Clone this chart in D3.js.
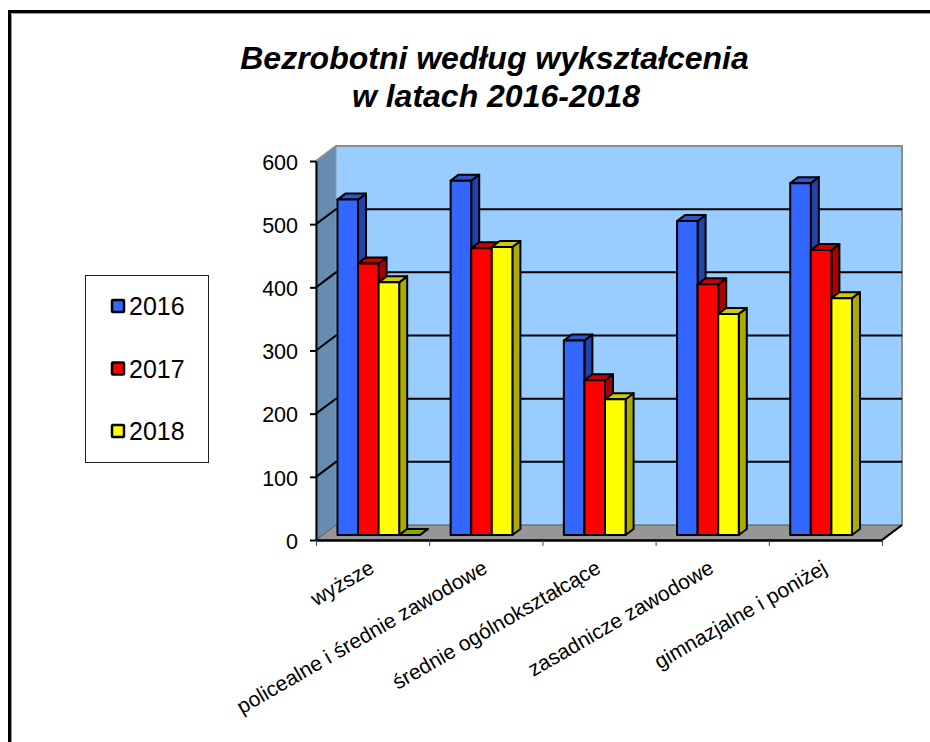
<!DOCTYPE html>
<html lang="pl">
<head>
<meta charset="UTF-8">
<title>Bezrobotni według wykształcenia</title>
<script src="https://d3js.org/d3.v7.min.js"></script>
<style>
    body { margin: 0; background: #fff; }
    text { font-family: "Liberation Sans", Arial, sans-serif; fill: #000; }
</style>
</head>
<body>
<div id="chart"></div>
<script>
    // Data
    const categories = ["wyższe", "policealne i średnie zawodowe", "średnie ogólnokształcące", "zasadnicze zawodowe", "gimnazjalne i poniżej"];
    const years = ["2016", "2017", "2018"];
    const values2016 = [531, 561, 308, 497, 557];
    const values2017 = [430, 454, 245, 397, 451];
    const values2018 = [400, 456, 215, 350, 375];
    // the stray flat bar next to "wyższe": a fourth, empty series
    const valuesExtra = [0, null, null, null, null];
    const yTicks = [0, 100, 200, 300, 400, 500, 600];

    const seriesList = [
        { name: "2016", values: values2016, front: "#3366ff", side: "#2244aa", top: "#2f55cc" },
        { name: "2017", values: values2017, front: "#ff0000", side: "#aa0000", top: "#cc0000" },
        { name: "2018", values: values2018, front: "#ffff00", side: "#aaaa00", top: "#cccc00" },
        { name: "extra", values: valuesExtra, front: "#99cc00", side: "#668800", top: "#88aa00" }
    ];

    const width = 930, height = 742;
    const plot = { left: 316, right: 882, top: 161, bottom: 540 };
    const wall = { dx: 20, dy: -15 };   // depth of the whole 3d box
    const barOff = { dx: 6, dy: -5 };   // where the bar front sits inside the box
    const barDepth = { dx: 8, dy: -6 }; // depth of a bar

    const svg = d3.select("#chart").append("svg")
        .attr("width", width)
        .attr("height", height)
        .style("display", "block");

    // Outer frame of the slide
    svg.append("path").attr("d", "M9.5,742V11.5H930").attr("fill", "none").attr("stroke", "#000").attr("stroke-width", 3);
    svg.append("path").attr("d", "M11.5,742V13.5H930").attr("fill", "none").attr("stroke", "#999").attr("stroke-width", 1);

    // Title
    const title = svg.append("text")
        .attr("text-anchor", "middle")
        .attr("font-size", 32)
        .attr("font-weight", "bold")
        .attr("font-style", "italic");
    title.append("tspan").attr("x", 494.5).attr("y", 69).text("Bezrobotni według wykształcenia");
    title.append("tspan").attr("x", 496).attr("y", 107).text("w latach 2016-2018");

    // Scales
    const y = d3.scaleLinear().domain([0, 600]).range([plot.bottom, plot.top]);
    const x0 = d3.scaleBand().domain(categories).range([plot.left, plot.right]);
    const x1 = d3.scaleBand()
        .domain(seriesList.map(d => d.name))
        .range([0, x0.bandwidth()])
        .paddingInner(0)
        .paddingOuter(0.75);

    const poly = pts => pts.map(p => p.join(",")).join(" ");

    // Walls and floor
    const xL = plot.left, xR = plot.right, yT = plot.top, yB = plot.bottom;
    svg.append("polygon")
        .attr("points", poly([[xL + wall.dx, yT + wall.dy], [xR + wall.dx, yT + wall.dy], [xR + wall.dx, yB + wall.dy], [xL + wall.dx, yB + wall.dy]]))
        .attr("fill", "#99ccff");
    svg.append("polygon")
        .attr("points", poly([[xL, yT], [xL + wall.dx, yT + wall.dy], [xL + wall.dx, yB + wall.dy], [xL, yB]]))
        .attr("fill", "#668cb0")
        .attr("stroke", "#8a9aa8").attr("stroke-width", 1);
    svg.append("polygon")
        .attr("points", poly([[xL, yB], [xL + wall.dx, yB + wall.dy], [xR + wall.dx, yB + wall.dy], [xR, yB]]))
        .attr("fill", "#969696")
        .attr("stroke", "#555").attr("stroke-width", 1);
    // grey wall edge on top and right
    svg.append("path")
        .attr("d", `M${xL},${yT}L${xL + wall.dx},${yT + wall.dy}H${xR + wall.dx}V${yB + wall.dy}L${xR},${yB}`)
        .attr("fill", "none").attr("stroke", "#8c8c8c").attr("stroke-width", 2);
    // the floor's front right corner has a dark edge
    svg.append("path")
        .attr("d", `M${xR},${yB}L${xR + wall.dx},${yB + wall.dy}`)
        .attr("fill", "none").attr("stroke", "#000").attr("stroke-width", 2);

    // Gridlines on the side wall and back wall
    const gridTicks = yTicks.filter(d => d > 0 && d < 600);
    svg.append("g").selectAll("path").data(gridTicks).enter().append("path")
        .attr("d", d => `M${xL},${y(d)}L${xL + wall.dx},${y(d) + wall.dy}H${xR + wall.dx}`)
        .attr("fill", "none").attr("stroke", "#000").attr("stroke-width", 2);

    // Bars
    const groups = svg.append("g").selectAll("g").data(categories).enter().append("g");
    groups.each(function(cat, i) {
        const g = d3.select(this);
        seriesList.forEach(s => {
            const v = s.values[i];
            if (v === null) return;
            const xa = x0(cat) + x1(s.name) + barOff.dx;
            const xb = xa + x1.bandwidth();
            const yb = y(0) + barOff.dy;
            const yt = y(v) + barOff.dy;
            const dx = barDepth.dx, dy = barDepth.dy;
            const bar = g.append("g").attr("stroke", "#000").attr("stroke-width", 2).attr("stroke-linejoin", "round");
            bar.append("polygon").attr("fill", s.side)
                .attr("points", poly([[xb, yt], [xb + dx, yt + dy], [xb + dx, yb + dy], [xb, yb]]));
            bar.append("polygon").attr("fill", s.top)
                .attr("points", poly([[xa, yt], [xa + dx, yt + dy], [xb + dx, yt + dy], [xb, yt]]));
            bar.append("rect").attr("fill", s.front)
                .attr("x", xa).attr("y", yt).attr("width", xb - xa).attr("height", yb - yt);
        });
    });

    // Axes
    const yAxis = svg.append("g")
        .attr("transform", `translate(${plot.left},0)`)
        .call(d3.axisLeft(y).tickValues(yTicks).tickSize(6).tickPadding(12).tickSizeOuter(0));
    yAxis.selectAll("text").attr("font-size", 21.5).attr("font-family", null).attr("dy", "0.38em");
    yAxis.selectAll("path,line").attr("stroke", "#000").attr("stroke-width", 2);

    const xAxisScale = d3.scaleLinear().domain([0, categories.length]).range([plot.left, plot.right]);
    const xAxis = svg.append("g")
        .attr("transform", `translate(0,${plot.bottom})`)
        .call(d3.axisBottom(xAxisScale).tickValues(d3.range(categories.length + 1)).tickFormat("").tickSize(6).tickSizeOuter(0));
    xAxis.selectAll("path").attr("stroke", "#000").attr("stroke-width", 2.5);
    xAxis.selectAll("line").attr("stroke", "#444").attr("stroke-width", 1);

    // Rotated category labels, ending under the middle of each band
    svg.append("g").selectAll("text").data(categories).enter().append("text")
        .attr("transform", d => `translate(${x0(d) + x0.bandwidth() / 2 + 3},572) rotate(-30)`)
        .attr("text-anchor", "end")
        .attr("font-size", 21)
        .text(d => d);

    // Legend
    svg.append("rect")
        .attr("x", 85.5).attr("y", 275.5).attr("width", 123).attr("height", 187)
        .attr("fill", "#fff").attr("stroke", "#222").attr("stroke-width", 1);
    const legendY = d3.scalePoint().domain(years).range([306, 431]);
    const legend = svg.append("g").selectAll("g").data(years).enter().append("g")
        .attr("transform", d => `translate(0,${legendY(d)})`);
    legend.append("rect")
        .attr("x", 112).attr("y", -6).attr("width", 12).attr("height", 12).attr("rx", 1)
        .attr("fill", d => seriesList.find(s => s.name === d).front)
        .attr("stroke", "#000").attr("stroke-width", 2.5);
    legend.append("text")
        .attr("x", 129).attr("y", 9)
        .attr("font-size", 25)
        .text(d => d);
</script>
</body>
</html>
